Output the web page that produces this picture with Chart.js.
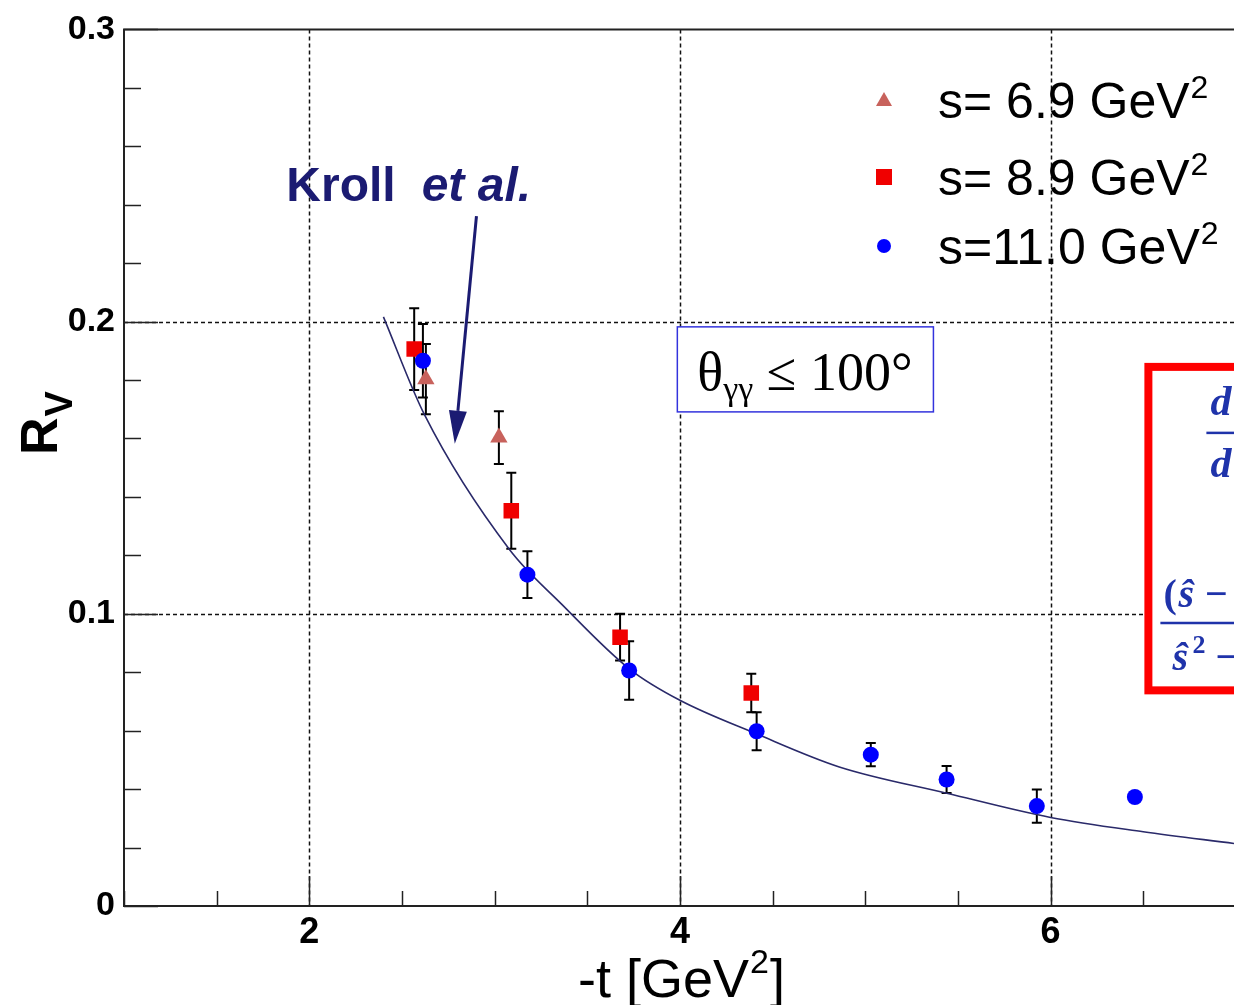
<!DOCTYPE html>
<html>
<head>
<meta charset="utf-8">
<script src="https://cdn.jsdelivr.net/npm/chart.js@4.4.0/dist/chart.umd.min.js"></script>
<style>
  html, body { margin: 0; padding: 0; background: #fff; overflow: hidden; }
  canvas { display: block; }
</style>
</head>
<body>
<canvas id="rvChart" width="1234" height="1005"></canvas>
<script>
// -t [GeV^2], R_V and error for each s value
var t69 = [2.629, 3.023];
var rv69 = [0.1803, 0.1603];
var err69 = [0.012, 0.009];

var t89 = [2.566, 3.09, 3.677, 4.385];
var rv89 = [0.1906, 0.1353, 0.092, 0.0729];
var err89 = [0.014, 0.013, 0.008, 0.0066];

var t110 = [2.613, 3.177, 3.726, 4.414, 5.03, 5.439, 5.926, 6.455];
var rv110 = [0.1866, 0.1134, 0.0806, 0.0598, 0.0518, 0.0433, 0.0342, 0.0373];
var err110 = [0.0126, 0.008, 0.010, 0.0065, 0.004, 0.0046, 0.0057, 0.0015];

// Kroll et al. curve
var tKroll = [2.40, 2.62, 3.08, 3.36, 3.73, 4.0, 4.41, 4.86, 5.44, 6.0, 6.5, 6.99];
var rvKroll = [0.2016, 0.1683, 0.122, 0.1034, 0.081, 0.0704, 0.059, 0.0476, 0.0386, 0.0303, 0.0254, 0.0214];

var xTicks = [2, 4, 6];
var yTicks = [0, 0.1, 0.2, 0.3];
var legendLabels = ['s= 6.9 GeV', 's= 8.9 GeV', 's=11.0 GeV'];

function pts(xs, ys) {
  return xs.map(function(x, i) { return { x: x, y: ys[i] }; });
}

var errSets = [
  { xs: t69, ys: rv69, err: err69 },
  { xs: t89, ys: rv89, err: err89 },
  { xs: t110, ys: rv110, err: err110 }
];

var extras = {
  id: 'extras',
  beforeDatasetsDraw: function(chart) {
    var ctx = chart.ctx, a = chart.chartArea;
    var xs = chart.scales.x, ys = chart.scales.y;
    ctx.save();
    // dashed grid at major ticks
    ctx.strokeStyle = '#111';
    ctx.lineWidth = 1.5;
    ctx.setLineDash([4, 3]);
    xTicks.forEach(function(v) {
      var p = Math.round(xs.getPixelForValue(v)) + 0.5;
      ctx.beginPath(); ctx.moveTo(p, a.top); ctx.lineTo(p, a.bottom); ctx.stroke();
    });
    yTicks.forEach(function(v) {
      if (v === 0 || v === 0.3) return;
      var p = Math.round(ys.getPixelForValue(v)) + 0.5;
      ctx.beginPath(); ctx.moveTo(a.left, p); ctx.lineTo(a.right, p); ctx.stroke();
    });
    ctx.setLineDash([]);
    // frame
    ctx.strokeStyle = '#222';
    ctx.lineWidth = 2;
    ctx.beginPath();
    ctx.moveTo(a.right, a.top); ctx.lineTo(a.left, a.top);
    ctx.lineTo(a.left, a.bottom); ctx.lineTo(a.right, a.bottom);
    ctx.stroke();
    // inward ticks
    ctx.lineWidth = 1.5;
    for (var i = 0; i <= 15; i++) {
      var yv = i * 0.02;
      var yp = Math.round(ys.getPixelForValue(yv)) + 0.5;
      var len = (i % 5 === 0) ? 34 : 17;
      ctx.beginPath(); ctx.moveTo(a.left, yp); ctx.lineTo(a.left + len, yp); ctx.stroke();
    }
    for (var j = 2; j <= 13; j++) {
      var xv = j * 0.5;
      if (xv > xs.max) break;
      var xp = Math.round(xs.getPixelForValue(xv)) + 0.5;
      var l2 = (j % 4 === 0) ? 30 : 15;
      ctx.beginPath(); ctx.moveTo(xp, a.bottom); ctx.lineTo(xp, a.bottom - l2); ctx.stroke();
    }
    // error bars
    ctx.strokeStyle = '#000';
    ctx.lineWidth = 2;
    errSets.forEach(function(s) {
      s.xs.forEach(function(x, k) {
        var px = xs.getPixelForValue(x);
        var top = ys.getPixelForValue(s.ys[k] + s.err[k]);
        var bot = ys.getPixelForValue(s.ys[k] - s.err[k]);
        ctx.beginPath();
        ctx.moveTo(px, top); ctx.lineTo(px, bot);
        ctx.moveTo(px - 5, top); ctx.lineTo(px + 5, top);
        ctx.moveTo(px - 5, bot); ctx.lineTo(px + 5, bot);
        ctx.stroke();
      });
    });
    ctx.restore();
  },
  afterDatasetsDraw: function(chart) {
    var ctx = chart.ctx, a = chart.chartArea;
    var xs = chart.scales.x, ys = chart.scales.y;
    var X = function(v) { return xs.getPixelForValue(v); };
    var Y = function(v) { return ys.getPixelForValue(v); };
    ctx.save();

    // Kroll et al. label and arrow
    var navy = '#1b1b72';
    ctx.fillStyle = navy;
    ctx.textBaseline = 'alphabetic';
    ctx.textAlign = 'left';
    ctx.font = 'bold 48px "Liberation Sans"';
    var kx = X(1.876), ky = Y(0.2412);
    ctx.fillText('Kroll', kx, ky);
    var kw = ctx.measureText('Kroll').width;
    ctx.font = 'italic bold 48px "Liberation Sans"';
    ctx.fillText('et al.', kx + kw + 26, ky);

    var sx = X(2.902), sy = Y(0.2361), tx = X(2.785), ty = Y(0.1582);
    var ang = Math.atan2(ty - sy, tx - sx);
    var hl = 33, hw = 9;
    var bx = tx - Math.cos(ang) * hl, by = ty - Math.sin(ang) * hl;
    ctx.strokeStyle = navy;
    ctx.lineWidth = 3;
    ctx.beginPath(); ctx.moveTo(sx, sy); ctx.lineTo(bx, by); ctx.stroke();
    ctx.beginPath();
    ctx.moveTo(tx, ty);
    ctx.lineTo(bx + Math.sin(ang) * hw, by - Math.cos(ang) * hw);
    ctx.lineTo(bx - Math.sin(ang) * hw, by + Math.cos(ang) * hw);
    ctx.closePath(); ctx.fill();

    // theta box
    var bx0 = X(3.986), by0 = Y(0.1982), bx1 = X(5.368), by1 = Y(0.1691);
    ctx.fillStyle = '#fff';
    ctx.fillRect(bx0, by0, bx1 - bx0, by1 - by0);
    ctx.strokeStyle = '#3333dd';
    ctx.lineWidth = 1.5;
    ctx.strokeRect(bx0, by0, bx1 - bx0, by1 - by0);
    ctx.fillStyle = '#000';
    ctx.font = '54px "Liberation Serif"';
    var th = bx0 + 20, tb = by0 + 63;
    ctx.fillText('\u03B8', th, tb);
    var w1 = ctx.measureText('\u03B8').width;
    ctx.font = '34px "Liberation Serif"';
    ctx.fillText('\u03B3\u03B3', th + w1, tb + 10);
    var w2 = ctx.measureText('\u03B3\u03B3').width;
    ctx.font = '54px "Liberation Serif"';
    ctx.fillText(' \u2264 100\u00B0', th + w1 + w2, tb);

    // red formula box (cut at the right edge)
    var rx0 = X(6.528), ry0 = Y(0.1845), ry1 = Y(0.0738);
    ctx.fillStyle = '#fff';
    ctx.fillRect(rx0, ry0, a.right - rx0 + 10, ry1 - ry0);
    ctx.strokeStyle = '#ff0000';
    ctx.lineWidth = 8;
    ctx.strokeRect(rx0, ry0, a.right - rx0 + 20, ry1 - ry0);
    var fblue = '#1f33aa';
    ctx.fillStyle = fblue;
    ctx.strokeStyle = fblue;
    ctx.lineWidth = 2.5;
    ctx.font = 'italic bold 42px "Liberation Serif"';
    ctx.fillText('d', rx0 + 62, ry0 + 48);
    ctx.beginPath(); ctx.moveTo(rx0 + 58, ry0 + 66); ctx.lineTo(a.right, ry0 + 66); ctx.stroke();
    ctx.fillText('d', rx0 + 62, ry0 + 110);
    ctx.font = 'bold 40px "Liberation Serif"';
    ctx.fillText('(', rx0 + 15, ry0 + 240);
    ctx.font = 'italic bold 40px "Liberation Serif"';
    ctx.fillText('\u015D \u2212', rx0 + 30, ry0 + 240);
    ctx.beginPath(); ctx.moveTo(rx0 + 12, ry0 + 256); ctx.lineTo(a.right, ry0 + 256); ctx.stroke();
    ctx.fillText('\u015D', rx0 + 24, ry0 + 303);
    ctx.font = 'bold 26px "Liberation Serif"';
    ctx.fillText('2', rx0 + 44, ry0 + 286);
    ctx.font = 'italic bold 40px "Liberation Serif"';
    ctx.fillText('\u2212', rx0 + 66, ry0 + 303);

    // legend
    var lx = 884, tx0 = 938;
    var rows = [100, 177, 246];
    var styles = chart.data.datasets.slice(0, 3);
    rows.forEach(function(ry, i) {
      var ds = styles[i];
      ctx.fillStyle = ds.backgroundColor;
      ctx.beginPath();
      if (ds.pointStyle === 'triangle') {
        ctx.moveTo(lx, ry - 8); ctx.lineTo(lx + 8, ry + 6); ctx.lineTo(lx - 8, ry + 6); ctx.closePath();
      } else if (ds.pointStyle === 'rect') {
        ctx.rect(lx - 8, ry - 8, 16, 16);
      } else {
        ctx.arc(lx, ry, 7, 0, Math.PI * 2);
      }
      ctx.fill();
      ctx.fillStyle = '#000';
      ctx.font = '50px "Liberation Sans"';
      var base = ry + 18;
      ctx.fillText(legendLabels[i], tx0, base);
      var w = ctx.measureText(legendLabels[i]).width;
      ctx.font = '32px "Liberation Sans"';
      ctx.fillText('2', tx0 + w + 1, base - 20);
    });

    // axis titles
    ctx.fillStyle = '#000';
    ctx.font = '54px "Liberation Sans"';
    var xt = '-t [GeV';
    var xw = ctx.measureText(xt).width;
    var xtl = 578, xb = 997;
    ctx.fillText(xt, xtl, xb);
    ctx.font = '34px "Liberation Sans"';
    ctx.fillText('2', xtl + xw + 1, xb - 24);
    var sw = ctx.measureText('2').width;
    ctx.font = '54px "Liberation Sans"';
    ctx.fillText(']', xtl + xw + sw + 2, xb);

    ctx.translate(57, 455);
    ctx.rotate(-Math.PI / 2);
    ctx.font = 'bold 52px "Liberation Sans"';
    ctx.fillText('R', 0, 0);
    var rw = ctx.measureText('R').width;
    ctx.font = 'bold 38px "Liberation Sans"';
    ctx.fillText('V', rw + 1, 15);
    ctx.restore();
  }
};

var ctx = document.getElementById('rvChart').getContext('2d');
new Chart(ctx, {
  type: 'scatter',
  data: {
    datasets: [
      {
        label: 's= 6.9 GeV2',
        data: pts(t69, rv69),
        pointStyle: 'triangle',
        pointRadius: 10,
        backgroundColor: '#c8625c',
        borderColor: '#c8625c',
        borderWidth: 0,
        order: 3
      },
      {
        label: 's= 8.9 GeV2',
        data: pts(t89, rv89),
        pointStyle: 'rect',
        pointRadius: 11,
        backgroundColor: '#f00000',
        borderColor: '#f00000',
        borderWidth: 0,
        order: 2
      },
      {
        label: 's=11.0 GeV2',
        data: pts(t110, rv110),
        pointStyle: 'circle',
        pointRadius: 8,
        backgroundColor: '#0000ff',
        borderColor: '#0000ff',
        borderWidth: 0,
        order: 1
      },
      {
        label: 'Kroll et al.',
        data: pts(tKroll, rvKroll),
        showLine: true,
        pointRadius: 0,
        borderColor: '#2a2a6a',
        borderWidth: 1.6,
        cubicInterpolationMode: 'monotone',
        fill: false,
        order: 4
      }
    ]
  },
  options: {
    responsive: false,
    animation: false,
    layout: { autoPadding: false, padding: { top: 28, right: 0, left: 0, bottom: 0 } },
    plugins: { legend: { display: false }, tooltip: { enabled: false } },
    scales: {
      x: {
        type: 'linear',
        min: 1,
        max: 6.99,
        afterBuildTicks: function(s) { s.ticks = xTicks.map(function(v) { return { value: v }; }); },
        afterFit: function(s) { s.height = 99; },
        grid: { display: false, drawTicks: false },
        border: { display: false },
        ticks: {
          padding: 5,
          color: '#000',
          maxRotation: 0,
          autoSkip: false,
          font: { family: 'Liberation Sans', size: 36, weight: 'bold' }
        }
      },
      y: {
        type: 'linear',
        min: 0,
        max: 0.3,
        afterBuildTicks: function(s) { s.ticks = yTicks.map(function(v) { return { value: v }; }); },
        afterFit: function(s) { s.width = 124; },
        grid: { display: false, drawTicks: false },
        border: { display: false },
        ticks: {
          padding: 9,
          color: '#000',
          autoSkip: false,
          font: { family: 'Liberation Sans', size: 34, weight: 'bold' }
        }
      }
    }
  },
  plugins: [extras]
});
</script>
</body>
</html>
